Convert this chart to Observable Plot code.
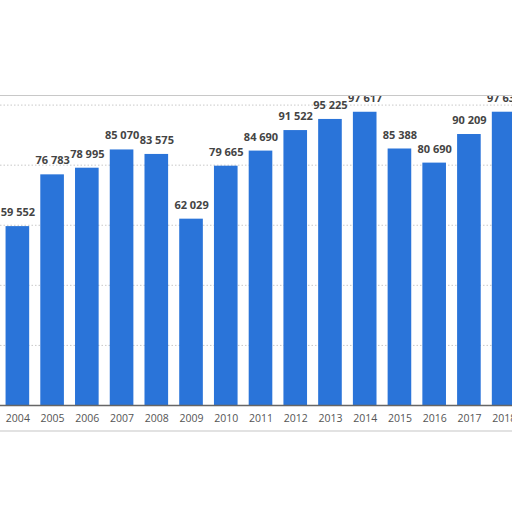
<!DOCTYPE html>
<html>
<head>
<meta charset="utf-8">
<script src="https://cdn.jsdelivr.net/npm/d3@7"></script>
<script src="https://cdn.jsdelivr.net/npm/@observablehq/plot@0.6"></script>
<style>
  html, body { margin: 0; padding: 0; background: #fff; overflow: hidden; width: 512px; height: 512px; }
  #chart { position: absolute; left: 0; top: 95px; width: 521px; }
  #chart svg { display: block; overflow: hidden; max-width: none; border-top: 1px solid #c8c8c8; border-bottom: 2px solid #e2e2e2; }
</style>
</head>
<body>
<div id="chart"></div>
<script>
const years = ["2004","2005","2006","2007","2008","2009","2010","2011","2012","2013","2014","2015","2016","2017","2018"];
const values = [59552, 76783, 78995, 85070, 83575, 62029, 79665, 84690, 91522, 95225, 97617, 85388, 80690, 90209, 97630];
const gridTicks = [20000, 40000, 60000, 80000, 100000];

const data = years.map((year, i) => ({year, value: values[i]}));
const fmt = v => d3.format(",")(v).replace(/,/g, " ");

const chart = Plot.plot({
  width: 521,
  height: 334,
  marginLeft: 0,
  marginRight: 0,
  marginTop: 8.6,
  marginBottom: 25,
  style: {fontFamily: "'Open Sans', sans-serif", background: "#fff", overflow: "hidden"},
  x: {type: "band", domain: years, paddingInner: 0.32, paddingOuter: 0.16, round: false, label: null},
  y: {domain: [0, 100000], axis: null},
  marks: [
    Plot.ruleY(gridTicks, {stroke: "#c9c9c9", strokeDasharray: "1.5,2"}),
    Plot.barY(data, {x: "year", y: "value", fill: "#2a74d9"}),
    Plot.ruleY([0], {stroke: "#666", strokeWidth: 1.5}),
    Plot.text(data, {x: "year", y: "value", text: d => fmt(d.value), dy: -14, fill: "#444", fontSize: 11, fontWeight: 700}),
    Plot.axisX({tickSize: 0, tickPadding: 9, fontSize: 10.5, color: "#555", label: null})
  ]
});
document.getElementById("chart").appendChild(chart);
</script>
</body>
</html>
